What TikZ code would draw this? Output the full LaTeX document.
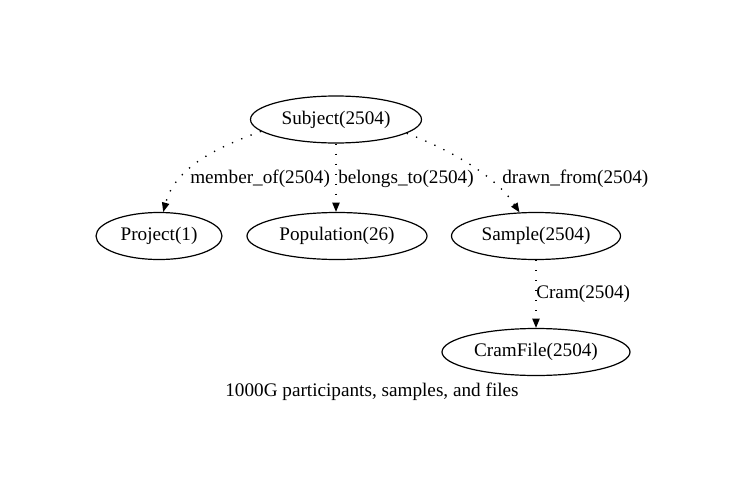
\documentclass[tikz,border=0pt]{standalone}
\usepackage{fontspec}
\setmainfont{Liberation Serif}
\usetikzlibrary{arrows.meta,shapes.geometric}
\begin{document}
\begin{tikzpicture}[x=0.75pt,y=-0.75pt,
  every node/.style={font=\fontsize{14.4pt}{16pt}\selectfont},
  entity/.style={draw,ellipse,line width=0.9pt,inner sep=0pt,minimum height=35.25pt},
  rel/.style={line width=1pt,dash pattern=on 1pt off 6.5pt,-{Triangle[length=7pt,width=5.5pt]}},
  lbl/.style={anchor=base west,inner sep=0pt}]
\path[use as bounding box] (0,0) rectangle (745,503);
\node[entity,minimum width=128.25pt] (subj) at (336,119.5) {Subject(2504)};
\node[entity,minimum width=94.5pt] (proj) at (159,236) {Project(1)};
\node[entity,minimum width=135pt] (pop) at (337,236) {Population(26)};
\node[entity,minimum width=126.75pt] (samp) at (536,236) {Sample(2504)};
\node[entity,minimum width=141pt] (cram) at (536,352) {CramFile(2504)};
\draw[rel] (subj.189) .. controls (215,148) and (175,168) .. (proj.80);
\draw[rel] (subj.south) -- (subj.south |- pop.north);
\draw[rel] (subj.-11) .. controls (450,150) and (495,175) .. (samp.125);
\draw[rel] (samp.south) -- (cram.north);
\node[lbl] (l1) at (190,183) {member\_of(2504)};
\node[lbl] (l2) at (338,183) {belongs\_to(2504)};
\node[lbl] (l3) at (502,183) {drawn\_from(2504)};
\node[lbl] (l4) at (536,298.5) {Cram(2504)};
\node[anchor=base,inner sep=0pt] (cap) at (372,396) {1000G participants, samples, and files};
\end{tikzpicture}
\end{document}
